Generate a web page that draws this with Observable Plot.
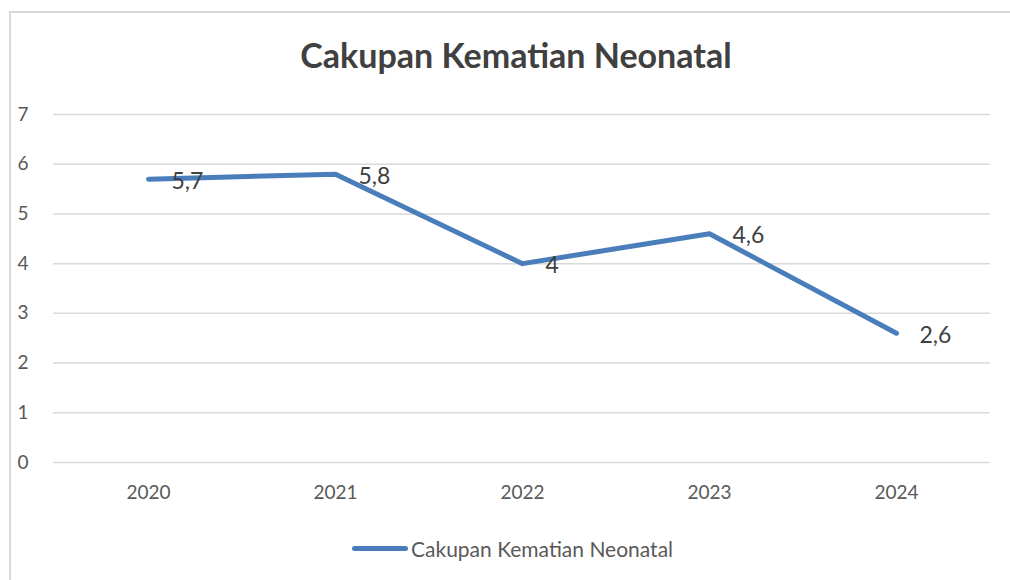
<!DOCTYPE html>
<html>
<head>
<meta charset="utf-8">
<script src="https://cdn.jsdelivr.net/npm/d3@7"></script>
<script src="https://cdn.jsdelivr.net/npm/@observablehq/plot@0.6"></script>
<style>
  html, body { margin: 0; padding: 0; background: #fff; }
  body { width: 1010px; height: 580px; position: relative; overflow: hidden; font-family: Lato, "Open Sans", sans-serif; }
  #frame { position: absolute; left: 9px; top: 11px; width: 1100px; height: 700px; border-left: 2px solid #d9d9d9; border-top: 2px solid #d9d9d9; }
  #title { position: absolute; left: 0; width: 1032px; top: 34px; text-align: center; font-size: 34px; font-weight: 700; color: #404040; }
  #chart { position: absolute; left: 0; top: 90px; }
  #legend { position: absolute; top: 536px; left: 352px; display: flex; align-items: center; font-size: 21px; color: #595959; }
  #legend .sw { width: 56px; height: 5px; border-radius: 3px; background: #4a7ebb; margin-right: 3px; }
</style>
</head>
<body>
<div id="frame"></div>
<div id="title">Cakupan Kematian Neonatal</div>
<div id="chart"></div>
<div id="legend"><span class="sw"></span><span id="legendText"></span></div>
<script>
const seriesName = "Cakupan Kematian Neonatal";
const years = ["2020", "2021", "2022", "2023", "2024"];
const values = [5.7, 5.8, 4, 4.6, 2.6];
const yTicks = [0, 1, 2, 3, 4, 5, 6, 7];

document.getElementById("legendText").textContent = seriesName;

const data = years.map((y, i) => ({year: y, value: values[i], label: String(values[i]).replace(".", ",")}));

const plot = Plot.plot({
  width: 1010,
  height: 420,
  marginTop: 24,
  marginBottom: 48,
  marginLeft: 53,
  marginRight: 20,
  style: {fontFamily: "Lato, 'Open Sans', sans-serif", fontSize: "19px", color: "#595959", background: "transparent"},
  x: {type: "point", domain: years, padding: 0.5, label: null},
  y: {domain: [0, 7], label: null},
  marks: [
    Plot.gridY(yTicks, {stroke: "#d9d9d9", strokeWidth: 1.5, strokeOpacity: 1}),
    Plot.axisX({tickSize: 0, tickPadding: 23, fontSize: 19, fill: "#595959"}),
    Plot.axisY({ticks: yTicks, tickFormat: "d", tickSize: 0, tickPadding: 25, fontSize: 19, fill: "#595959"}),
    Plot.line(data, {x: "year", y: "value", stroke: "#4a7ebb", strokeWidth: 5, strokeLinecap: "round", strokeLinejoin: "round"}),
    Plot.text(data, {x: "year", y: "value", text: "label", textAnchor: "start", dx: 23, dy: 2, fontSize: 23, fill: "#404040"})
  ]
});
document.getElementById("chart").appendChild(plot);
</script>
</body>
</html>
